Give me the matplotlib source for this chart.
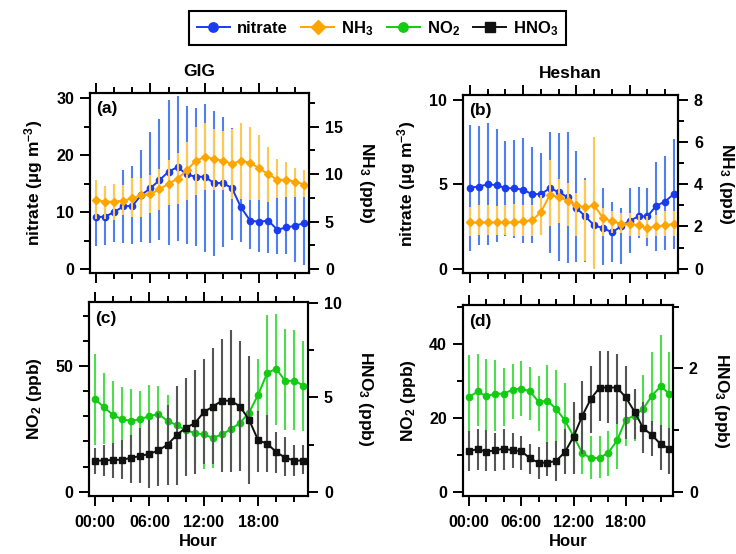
import matplotlib
matplotlib.use("Agg")
import matplotlib.pyplot as plt
import numpy as np

plt.rcParams['font.family'] = ['Liberation Sans', 'DejaVu Sans']
plt.rcParams['font.weight'] = 'bold'
plt.rcParams['axes.labelweight'] = 'bold'
plt.rcParams['axes.titleweight'] = 'bold'
plt.rcParams['mathtext.fontset'] = 'custom'
plt.rcParams['mathtext.rm'] = 'Liberation Sans:bold'
plt.rcParams['mathtext.it'] = 'Liberation Sans:bold:italic'
plt.rcParams['mathtext.bf'] = 'Liberation Sans:bold'
plt.rcParams['font.size'] = 11

hours = np.arange(24)
hour_ticks = [0, 6, 12, 18]
hour_labels = ["00:00", "06:00", "12:00", "18:00"]

# --- GIG: nitrate (ug m-3) and NH3 (ppb)
gig_nitrate = [9.1, 9.2, 10.0, 11.0, 11.1, 13.0, 14.2, 15.6, 17.1, 17.9, 16.6, 16.2,
               16.2, 15.1, 15.1, 14.2, 10.8, 8.5, 8.3, 8.5, 6.9, 7.3, 7.6, 8.1]
gig_nitrate_lo = [4.0, 4.3, 4.7, 4.5, 4.4, 4.8, 4.6, 5.1, 4.2, 5.0, 4.4, 4.0,
                  3.0, 2.2, 3.8, 5.1, 4.8, 3.6, 3.0, 2.8, 2.6, 2.6, 1.3, 0.7]
gig_nitrate_hi = [14.0, 14.0, 14.9, 17.4, 18.1, 20.9, 24.0, 26.3, 29.7, 30.4, 28.7, 28.2,
                  29.0, 27.8, 26.7, 24.8, 17.0, 13.4, 13.6, 14.0, 12.5, 12.6, 13.0, 14.5]
gig_nh3 = [7.27, 7.1, 7.1, 7.2, 7.45, 7.8, 7.9, 8.4, 9.0, 9.5, 10.4, 11.4,
           11.8, 11.6, 11.4, 11.1, 11.4, 11.2, 10.6, 10.0, 9.4, 9.4, 9.2, 8.9]
gig_nh3_lo = [5.3, 5.3, 5.2, 5.7, 5.5, 5.5, 5.9, 6.2, 6.7, 6.9, 7.3, 7.8,
              8.3, 8.3, 8.3, 7.4, 7.4, 7.3, 7.3, 7.1, 7.45, 7.6, 7.6, 7.6]
gig_nh3_hi = [9.4, 8.75, 8.96, 8.9, 9.55, 9.55, 9.9, 10.5, 11.5, 12.2, 13.4, 15.0,
              15.35, 14.8, 14.5, 14.7, 15.35, 15.0, 14.1, 12.9, 11.6, 11.3, 10.6, 10.4]

# --- Heshan: nitrate and NH3
hs_nitrate = [4.81, 4.87, 5.0, 4.95, 4.77, 4.77, 4.67, 4.42, 4.42, 4.77, 4.54, 4.24,
              3.59, 3.10, 2.56, 2.41, 2.15, 2.5, 2.84, 3.1, 3.1, 3.73, 3.98, 4.44]
hs_nitrate_lo = [1.03, 1.38, 1.38, 1.56, 1.91, 1.81, 1.52, 1.52, 2.0, 0.93, 0.43, 0.34,
                 0.37, 0.37, 0.3, 0.24, 0.37, 0.3, 0.93, 1.81, 1.32, 1.03, 1.12, 1.16]
hs_nitrate_hi = [8.52, 8.46, 8.62, 8.28, 7.57, 7.63, 7.77, 7.24, 6.88, 8.09, 8.03, 8.09,
                 6.98, 5.4, 4.6, 4.77, 3.98, 3.59, 4.77, 4.83, 4.77, 6.35, 6.69, 7.67]
hs_nh3 = [2.19, 2.19, 2.19, 2.19, 2.19, 2.19, 2.24, 2.29, 2.68, 3.5, 3.39, 3.22,
          3.0, 2.9, 3.0, 2.4, 2.24, 2.13, 2.13, 2.05, 1.92, 2.0, 2.05, 2.13]
hs_nh3_lo = [1.53, 1.6, 1.6, 1.6, 1.6, 1.53, 1.53, 1.53, 1.6, 2.0, 2.16, 2.0,
             1.53, 0.35, 0.0, 1.53, 1.69, 1.69, 1.53, 1.53, 1.45, 1.53, 1.53, 1.53]
hs_nh3_hi = [2.9, 3.03, 3.03, 2.95, 3.03, 3.06, 3.03, 3.03, 3.5, 5.16, 4.24, 4.05,
             3.58, 4.21, 6.23, 2.87, 2.71, 2.63, 2.63, 2.56, 2.48, 2.56, 2.71, 2.71]

# --- GIG: NO2 and HNO3 (ppb)
gig_no2 = [36.8, 33.6, 30.5, 28.8, 28.2, 28.9, 30.1, 30.9, 28.2, 26.5, 24.5, 23.4,
           22.8, 21.4, 22.8, 24.9, 27.4, 31.5, 38.6, 47.3, 48.9, 44.0, 44.2, 42.2]
gig_no2_lo = [18.7, 19.0, 18.5, 17.5, 17.5, 17.5, 18.0, 18.5, 17.5, 15.0, 13.0, 11.0,
              9.0, 9.5, 10.3, 12.0, 14.0, 20.4, 22.4, 25.1, 26.5, 24.5, 24.5, 24.1]
gig_no2_hi = [55.0, 47.3, 44.2, 41.7, 41.0, 40.2, 42.3, 41.9, 38.6, 38.0, 37.0, 36.0,
              35.0, 34.0, 35.0, 38.0, 41.0, 43.3, 53.0, 70.2, 70.8, 64.8, 64.5, 60.1]
gig_hno3 = [1.65, 1.65, 1.69, 1.69, 1.8, 1.89, 2.01, 2.19, 2.5, 3.0, 3.39, 3.63,
            4.22, 4.52, 4.83, 4.83, 4.52, 3.81, 2.73, 2.55, 2.1, 1.8, 1.65, 1.65]
gig_hno3_lo = [0.93, 0.84, 0.75, 0.66, 0.48, 0.45, 0.22, 0.3, 0.34, 0.34, 0.84, 0.93,
               1.47, 1.47, 1.02, 1.06, 1.11, 0.39, 1.06, 1.06, 0.97, 0.84, 0.84, 0.93]
gig_hno3_hi = [2.32, 2.5, 2.6, 2.73, 3.0, 3.36, 3.81, 4.17, 4.61, 5.6, 6.01, 6.45,
               7.07, 7.63, 8.11, 8.6, 7.99, 7.22, 4.29, 4.08, 3.18, 2.9, 2.46, 2.46]

# --- Heshan: NO2 and HNO3
hs_no2 = [25.6, 27.1, 25.8, 26.5, 26.5, 27.6, 27.9, 27.1, 24.3, 24.6, 22.4, 19.3,
          15.0, 10.5, 9.0, 9.2, 10.5, 13.9, 19.5, 20.6, 22.4, 26.0, 28.5, 26.5]
hs_no2_lo = [15.9, 17.7, 16.8, 16.4, 17.7, 19.7, 20.4, 19.5, 16.4, 12.8, 12.3, 8.3,
             5.6, 4.7, 3.3, 3.8, 4.2, 6.0, 12.3, 13.7, 15.0, 13.2, 15.0, 15.0]
hs_no2_hi = [36.9, 37.3, 35.9, 35.7, 33.4, 34.6, 35.4, 33.7, 31.4, 34.2, 33.0, 29.4,
             24.0, 16.8, 15.0, 15.0, 16.4, 22.2, 26.7, 27.1, 31.6, 37.9, 42.4, 37.9]
hs_hno3 = [0.66, 0.69, 0.65, 0.67, 0.70, 0.67, 0.66, 0.54, 0.47, 0.47, 0.50, 0.64,
           0.89, 1.23, 1.51, 1.69, 1.69, 1.69, 1.53, 1.30, 1.03, 0.92, 0.77, 0.70]
hs_hno3_lo = [0.34, 0.36, 0.33, 0.34, 0.36, 0.39, 0.36, 0.28, 0.20, 0.25, 0.17, 0.28,
              0.28, 0.61, 0.96, 1.15, 1.12, 1.10, 0.85, 0.85, 0.63, 0.58, 0.36, 0.28]
hs_hno3_hi = [0.99, 1.01, 1.0, 0.96, 1.01, 0.95, 0.91, 0.77, 0.73, 0.80, 0.82, 1.01,
              1.46, 1.8, 2.04, 2.29, 2.29, 2.23, 2.04, 1.66, 1.45, 1.15, 1.09, 1.04]

# colours: (line/marker, error bar)
c_nitrate = ("#1a3cf0", "#4f80f2")
c_nh3 = ("#ffa500", "#ffc850")
c_no2 = ("#11cc11", "#4ddd4d")
c_hno3 = ("#111111", "#555555")


def draw(ax, mean, lo, hi, colors, marker, ms):
    mean, lo, hi = np.array(mean), np.array(lo), np.array(hi)
    ax.errorbar(hours, mean, yerr=[mean - lo, hi - mean], fmt='none',
                ecolor=colors[1], elinewidth=1.5, capsize=0, zorder=1)
    line, = ax.plot(hours, mean, color=colors[0], marker=marker, ms=ms,
                    lw=1.4, zorder=2)
    return line


def style(ax, tw, xlim, ylim, tylim, ymaj, ymin, tymaj, tymin, bottom):
    ax.set_xlim(*xlim)
    ax.set_ylim(*ylim)
    tw.set_ylim(*tylim)
    ax.set_xticks(hour_ticks)
    ax.set_xticks(np.arange(0, 24, 2), minor=True)
    if bottom:
        ax.set_xticklabels(hour_labels)
        ax.set_xlabel("Hour", labelpad=3, fontsize=12)
    else:
        ax.set_xticklabels([])
    ax.set_yticks(ymaj)
    ax.set_yticks(ymin, minor=True)
    tw.set_yticks(tymaj)
    tw.set_yticks(tymin, minor=True)
    for a in (ax, tw):
        a.tick_params(which='both', direction='out', width=1.4, pad=4)
        a.tick_params(which='major', length=7.5, labelsize=11.5)
        a.tick_params(which='minor', length=4.5)
        for s in a.spines.values():
            s.set_linewidth(1.5)
    ax.tick_params(axis='x', which='both', top=True, pad=6)


W, H = 736, 554
fig = plt.figure(figsize=(W / 100, H / 100), dpi=100)


def box(x0, x1, y0, y1):
    return [x0 / W, 1 - y1 / H, (x1 - x0) / W, (y1 - y0) / H]


ax_a = fig.add_axes(box(90, 309, 93, 273))
ax_b = fig.add_axes(box(463, 678, 95, 273))
ax_c = fig.add_axes(box(89, 308, 302, 496))
ax_d = fig.add_axes(box(463, 673, 305, 496))
tw_a, tw_b, tw_c, tw_d = ax_a.twinx(), ax_b.twinx(), ax_c.twinx(), ax_d.twinx()

lab_kw = dict(fontsize=12.5, labelpad=8)
rlab_kw = dict(fontsize=12.5, labelpad=10, rotation=270, va='bottom')
title_kw = dict(pad=12, fontsize=12.5, fontweight='bold')

# (a)
l_nit = draw(ax_a, gig_nitrate, gig_nitrate_lo, gig_nitrate_hi, c_nitrate, 'o', 4.5)
l_nh3 = draw(tw_a, gig_nh3, gig_nh3_lo, gig_nh3_hi, c_nh3, 'D', 4.5)
style(ax_a, tw_a, (-0.67, 23.5), (-0.7, 30.9), (-0.42, 18.54),
      [0, 10, 20, 30], [5, 15, 25], [0, 5, 10, 15], [2.5, 7.5, 12.5, 17.5], False)
ax_a.set_ylabel("nitrate (µg m$^{-3}$)", **lab_kw)
tw_a.set_ylabel("NH$_3$ (ppb)", **rlab_kw)
ax_a.set_title("GIG", **title_kw)

# (b)
draw(ax_b, hs_nitrate, hs_nitrate_lo, hs_nitrate_hi, c_nitrate, 'o', 4.5)
draw(tw_b, hs_nh3, hs_nh3_lo, hs_nh3_hi, c_nh3, 'D', 4.5)
style(ax_b, tw_b, (-0.79, 23.45), (-0.26, 10.3), (-0.21, 8.24),
      [0, 5, 10], [], [0, 2, 4, 6, 8], [1, 3, 5, 7], False)
ax_b.set_ylabel("nitrate (µg m$^{-3}$)", **lab_kw)
tw_b.set_ylabel("NH$_3$ (ppb)", **rlab_kw)
ax_b.set_title("Heshan", **title_kw)

# (c)
l_no2 = draw(ax_c, gig_no2, gig_no2_lo, gig_no2_hi, c_no2, 'o', 4.5)
l_hno3 = draw(tw_c, gig_hno3, gig_hno3_lo, gig_hno3_hi, c_hno3, 's', 4.5)
style(ax_c, tw_c, (-0.67, 23.5), (-1.7, 75.5), (-0.23, 10.07),
      [0, 50], [10, 20, 30, 40, 60, 70], [0, 5, 10], [2.5, 7.5], True)
ax_c.set_ylabel("NO$_2$ (ppb)", **lab_kw)
tw_c.set_ylabel("HNO$_3$ (ppb)", **rlab_kw)

# (d)
draw(ax_d, hs_no2, hs_no2_lo, hs_no2_hi, c_no2, 'o', 4.5)
draw(tw_d, hs_hno3, hs_hno3_lo, hs_hno3_hi, c_hno3, 's', 4.5)
style(ax_d, tw_d, (-0.69, 23.42), (-1.17, 50.5), (-0.07, 3.03),
      [0, 20, 40], [10, 30, 50], [0, 2], [1, 3], True)
ax_d.set_ylabel("NO$_2$ (ppb)", **lab_kw)
tw_d.set_ylabel("HNO$_3$ (ppb)", **rlab_kw)

for ax, lab in zip((tw_a, tw_b, tw_c, tw_d), ("(a)", "(b)", "(c)", "(d)")):
    ax.text(0.03, 0.955, lab, transform=ax.transAxes, va='top', ha='left',
            fontsize=12.5, fontweight='bold', zorder=5)

leg = fig.legend([l_nit, l_nh3, l_no2, l_hno3],
                 ["nitrate", "NH$_3$", "NO$_2$", "HNO$_3$"],
                 loc='center', bbox_to_anchor=(0.513, 0.949), ncol=4,
                 fancybox=False, framealpha=1, edgecolor='black',
                 handlelength=2.0, columnspacing=0.8, handletextpad=0.4,
                 borderpad=0.45, fontsize=12, markerscale=1.5)
leg.get_frame().set_linewidth(1.5)

fig.savefig("out.png", dpi=100)
